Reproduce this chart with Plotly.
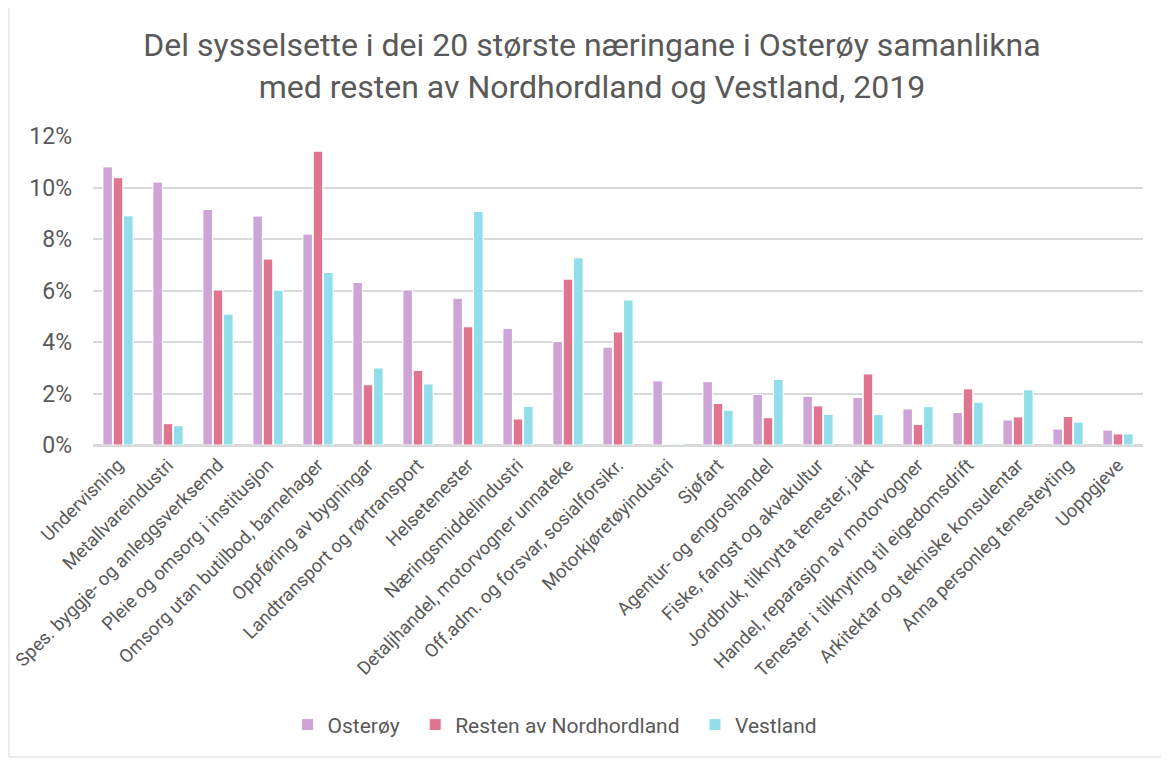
import plotly.graph_objects as go

categories = [
    "Undervisning", "Metallvareindustri", "Spes. byggje- og anleggsverksemd",
    "Pleie og omsorg i institusjon", "Omsorg utan butilbod, barnehager",
    "Oppføring av bygningar", "Landtransport og rørtransport",
    "Helsetenester", "Næringsmiddelindustri", "Detaljhandel, motorvogner unnateke",
    "Off.adm. og forsvar, sosialforsikr.", "Motorkjøretøyindustri", "Sjøfart",
    "Agentur- og engroshandel", "Fiske, fangst og akvakultur",
    "Jordbruk, tilknytta tenester, jakt", "Handel, reparasjon av motorvogner",
    "Tenester i tilknyting til eigedomsdrift", "Arkitektar og tekniske konsulentar",
    "Anna personleg tenesteyting", "Uoppgjeve",
]

osteroy = [10.80, 10.21, 9.15, 8.89, 8.19, 6.31, 6.02, 5.70, 4.53, 4.02, 3.80,
           2.49, 2.46, 1.97, 1.89, 1.85, 1.40, 1.26, 0.97, 0.62, 0.58]
nordhordland = [10.38, 0.83, 6.02, 7.22, 11.41, 2.34, 2.90, 4.59, 1.01, 6.44, 4.39,
                0.0, 1.61, 1.06, 1.52, 2.76, 0.80, 2.18, 1.09, 1.11, 0.43]
vestland = [8.90, 0.75, 5.08, 6.01, 6.70, 2.99, 2.37, 9.07, 1.50, 7.27, 5.63,
            0.04, 1.35, 2.55, 1.19, 1.18, 1.49, 1.66, 2.14, 0.89, 0.43]

series_names = ["Osterøy", "Resten av Nordhordland", "Vestland"]
series_values = [osteroy, nordhordland, vestland]
series_colors = ["#cda4d6", "#e07590", "#90deea"]

fig = go.Figure()
for i, (name, vals, col) in enumerate(zip(series_names, series_values, series_colors)):
    label = name + ("\u00a0\u00a0" if i < 2 else "")
    fig.add_trace(go.Bar(
        x=categories, y=[v / 100 for v in vals], name=label,
        marker=dict(color=col, line=dict(color="white", width=1)),
    ))

font_color = "#595959"
W, H = 1161, 752
L, R, T, B = 85, 26, 128, 315
PW, PH = W - L - R, H - T - B

fig.update_layout(
    width=W, height=H,
    paper_bgcolor="white", plot_bgcolor="white",
    font=dict(family="Roboto", color=font_color),
    title=dict(
        text="Del sysselsette i dei 20 største næringane i Osterøy samanlikna<br>med resten av Nordhordland og Vestland, 2019",
        x=0.503, xanchor="center", y=0.936, yanchor="top",
        font=dict(size=32, color=font_color, family="Roboto"),
    ),
    barmode="group", bargap=0.38, bargroupgap=0.08,
    margin=dict(l=L, r=R, t=T, b=B, autoexpand=False),
    showlegend=True,
    legend=dict(orientation="h", x=0.44, xanchor="center", y=-0.906, yanchor="middle",
                font=dict(size=21, color=font_color), itemwidth=30, traceorder="normal"),
    xaxis=dict(tickangle=-45, tickfont=dict(size=18.5, color=font_color),
               showline=True, linecolor="#d9d9d9", linewidth=2, ticks=""),
    yaxis=dict(range=[0, 0.12], dtick=0.02, tickformat=".0%",
               tickfont=dict(size=23, color=font_color),
               gridcolor="#d9d9d9", gridwidth=1.5, zeroline=True,
               zerolinecolor="#d9d9d9", zerolinewidth=2, ticks="",
               ticklabelstandoff=20),
)
fig.add_shape(type="rect", xref="paper", yref="paper",
              x0=(1 - L) / PW, x1=1 + 40 / PW, y0=-(H - 3 - (T + PH)) / PH, y1=1 + (T + 10) / PH,
              line=dict(color="#d9d9d9", width=1), fillcolor="rgba(0,0,0,0)", layer="below")

fig.write_html("out.html")
